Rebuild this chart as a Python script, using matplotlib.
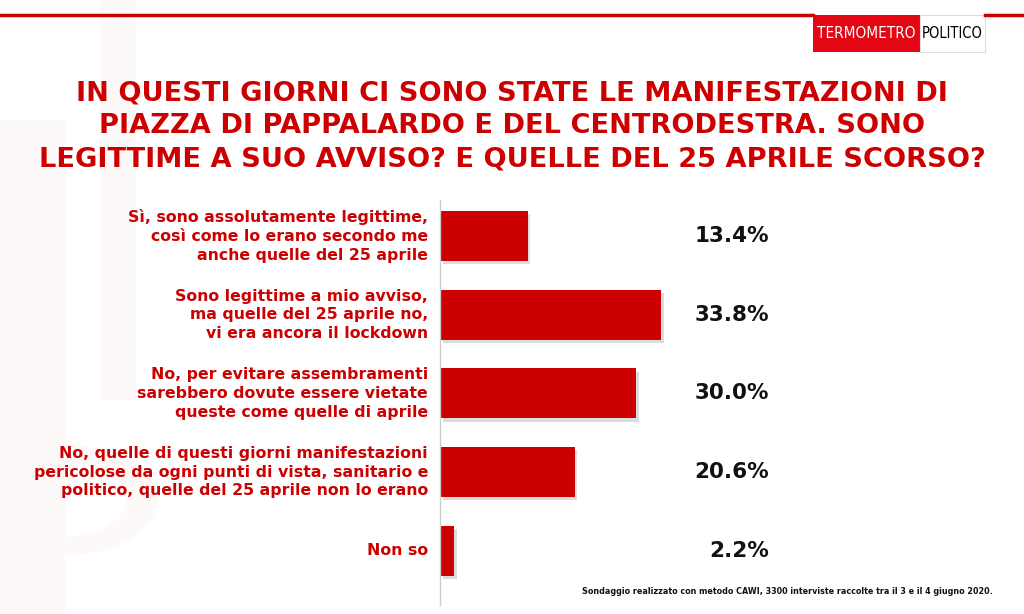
import matplotlib.pyplot as plt
import matplotlib.transforms as mtransforms
from matplotlib.patches import Rectangle, Wedge
from matplotlib.lines import Line2D

RED = '#CC0000'

title = ("IN QUESTI GIORNI CI SONO STATE LE MANIFESTAZIONI DI\n"
         "PIAZZA DI PAPPALARDO E DEL CENTRODESTRA. SONO\n"
         "LEGITTIME A SUO AVVISO? E QUELLE DEL 25 APRILE SCORSO?")
answers = [
    "Sì, sono assolutamente legittime,\ncosì come lo erano secondo me\nanche quelle del 25 aprile",
    "Sono legittime a mio avviso,\nma quelle del 25 aprile no,\nvi era ancora il lockdown",
    "No, per evitare assembramenti\nsarebbero dovute essere vietate\nqueste come quelle di aprile",
    "No, quelle di questi giorni manifestazioni\npericolose da ogni punti di vista, sanitario e\npolitico, quelle del 25 aprile non lo erano",
    "Non so",
]
values = [13.4, 33.8, 30.0, 20.6, 2.2]
note = "Sondaggio realizzato con metodo CAWI, 3300 interviste raccolte tra il 3 e il 4 giugno 2020."

W, H = 1024, 614
fig = plt.figure(figsize=(W / 100, H / 100), dpi=100)
fig.patch.set_facecolor('white')

# faint watermark shapes on the left
WM = '#fef9f9'
fig.patches.append(Rectangle((100 / W, 1 - 400 / H), 36 / W, 400 / H, transform=fig.transFigure,
                             facecolor=WM, edgecolor='none', zorder=0))
fig.patches.append(Rectangle((0, 0), 65 / W, 1 - 120 / H, transform=fig.transFigure,
                             facecolor=WM, edgecolor='none', zorder=0))
fig.patches.append(Wedge((65 / W, 1 - 500 / H), 0.09, -90, 90, width=0.03,
                         transform=fig.transFigure, facecolor=WM, edgecolor='none', zorder=0))

# top red rule with the logo
fig.add_artist(Line2D([0, 813 / W], [1 - 15 / H] * 2, color=RED, lw=2.5))
fig.add_artist(Line2D([985 / W, 1], [1 - 15 / H] * 2, color=RED, lw=2.5))
fig.patches.append(Rectangle((813 / W, 1 - 52 / H), 107 / W, 37 / H, transform=fig.transFigure,
                             facecolor='#E30613', edgecolor='none'))
fig.patches.append(Rectangle((920 / W, 1 - 52 / H), 65 / W, 37 / H, transform=fig.transFigure,
                             facecolor='white', edgecolor='#dddddd', lw=0.8))
fig.text(866 / W, 1 - 34 / H, "TERMOMETRO", color='white', fontsize=11,
         family='DejaVu Sans', fontstretch='condensed', ha='center', va='center')
fig.text(952 / W, 1 - 34 / H, "POLITICO", color='black', fontsize=10.5,
         family='DejaVu Sans', fontstretch='condensed', ha='center', va='center')

fig.text(0.5, 1 - 126 / H, title, color=RED, fontsize=19.6, fontweight='bold',
         ha='center', va='center', linespacing=1.35)

ax = fig.add_axes([440 / W, 9 / H, 360 / W, 405 / H])
ax.set_facecolor('none')
pos = list(range(len(values)))
# shadow then bars
ax.barh([p + 0.04 for p in pos], values, left=0.4, height=0.635, color='#bbbbbb', alpha=0.5)
ax.barh(pos, values, height=0.635, color=RED)
ax.set_xlim(0, 360 / 6.54)
ax.set_ylim(4.686, -0.457)
for s in ['top', 'right', 'bottom']:
    ax.spines[s].set_visible(False)
ax.spines['left'].set_color('#cccccc')
ax.spines['left'].set_linewidth(1)
ax.set_xticks([])
ax.set_yticks([])

tr = mtransforms.blended_transform_factory(fig.transFigure, ax.transData)
for p, lab, v in zip(pos, answers, values):
    fig.text(428 / W, p, lab, transform=tr, color=RED, fontsize=11.3, fontweight='bold',
             ha='right', va='center', linespacing=1.3)
    fig.text(769 / W, p, f"{v:.1f}%", transform=tr, color='#111111', fontsize=15.5,
             fontweight='bold', ha='right', va='center')

fig.text(993 / W, 1 - 592 / H, note, color='#111111', fontsize=5.8, fontweight='bold',
         ha='right', va='center')

fig.savefig('out.png', dpi=100)
